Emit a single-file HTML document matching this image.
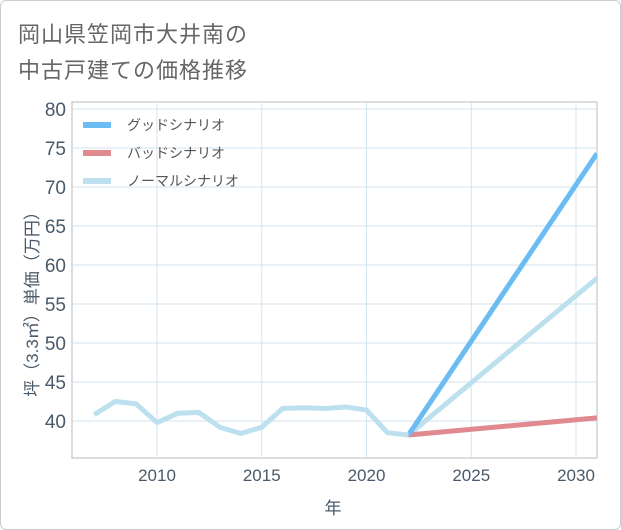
<!DOCTYPE html>
<html><head><meta charset="utf-8"><style>
body{margin:0;background:#fff;}
#wrap{position:relative;width:619px;height:528px;border:1px solid #ccc;border-radius:6px;background:#fff;overflow:hidden;font-family:"Liberation Sans","Noto Sans CJK JP",sans-serif;}
</style></head><body>
<div id="wrap">
<svg id="chart" width="621" height="530" style="position:absolute;left:-1px;top:-1px"></svg>
</div>
<script>
const years=[2007,2008,2009,2010,2011,2012,2013,2014,2015,2016,2017,2018,2019,2020,2021,2022];
const history=[40.8,42.5,42.2,39.8,41.0,41.1,39.2,38.4,39.2,41.6,41.7,41.6,41.8,41.4,38.5,38.2];
const projYears=[2022,2031];
const good=[38.2,74.3];
const bad=[38.2,40.4];
const normal=[38.2,58.3];
const xTicks=[2010,2015,2020,2025,2030];
const yTicks=[40,45,50,55,60,65,70,75,80];
const NS="http://www.w3.org/2000/svg";
const svg=document.getElementById('chart');
const L=72,R=597,T=102,B=458;
const x=v=>157+(v-2010)*20.95;
const y=v=>421-(v-40)*7.8;
function mk(t,a,p){const e=document.createElementNS(NS,t);for(const k in a)e.setAttribute(k,a[k]);(p||svg).appendChild(e);return e;}
function txt(s,a){const e=mk('text',a);e.textContent=s;return e;}
const title1=txt('岡山県笠岡市大井南の',{x:18,y:42,'font-size':22,fill:'#666','letter-spacing':1});

const title2=txt('中古戸建ての価格推移',{x:18,y:78,'font-size':22,fill:'#666','letter-spacing':1});

mk('rect',{x:L,y:T,width:R-L,height:B-T,fill:'none',stroke:'#bbb'});
yTicks.forEach(v=>{
 const g=mk('line',{x1:L,x2:R,y1:y(v),y2:y(v),stroke:'#d3e3ee'});
 
 const t=txt(v,{x:L-6,y:y(v)+7,'font-size':19,fill:'#4a5a6a','text-anchor':'end'});
 
});
xTicks.forEach(v=>{
 const g=mk('line',{x1:x(v),x2:x(v),y1:T,y2:B,stroke:'#d3e3ee'});
 
 const t=txt(v,{x:x(v),y:B+23,'font-size':17,fill:'#4a5a6a','text-anchor':'middle'});
 
});
const xt=txt('年',{x:333,y:514,'font-size':17,fill:'#4a5a6a','text-anchor':'middle'});

const yt=txt('坪（3.3㎡）単価（万円）',{x:0,y:0,'font-size':17,fill:'#4a5a6a','text-anchor':'middle',transform:'translate(38,300) rotate(-90)'});

function line(xs,ys,col,name){
 const p=mk('polyline',{points:xs.map((v,i)=>x(v)+','+y(ys[i])).join(' '),fill:'none',stroke:col,'stroke-width':5,'stroke-linejoin':'round','clip-path':'url(#clip)'});
 
}
const cp=mk('clipPath',{id:'clip'});mk('rect',{x:L,y:T,width:R-L,height:B-T},cp);
line(projYears,normal,'#bde0ef','normal-scenario-line');
line(projYears,bad,'#e08a8f','bad-scenario-line');
line(projYears,good,'#6bbcf2','good-scenario-line');
line(years,history,'#bde0ef','history-line');
[['グッドシナリオ','#6bbcf2'],['バッドシナリオ','#e08a8f'],['ノーマルシナリオ','#bde0ef']].forEach((d,i)=>{
 const yy=125+i*28;
 const l=mk('line',{x1:83,x2:111,y1:yy,y2:yy,stroke:d[1],'stroke-width':6});
 
 const t=txt(d[0],{x:127,y:yy+5,'font-size':14,fill:'#555'});
 
});
</script>
</body></html>
